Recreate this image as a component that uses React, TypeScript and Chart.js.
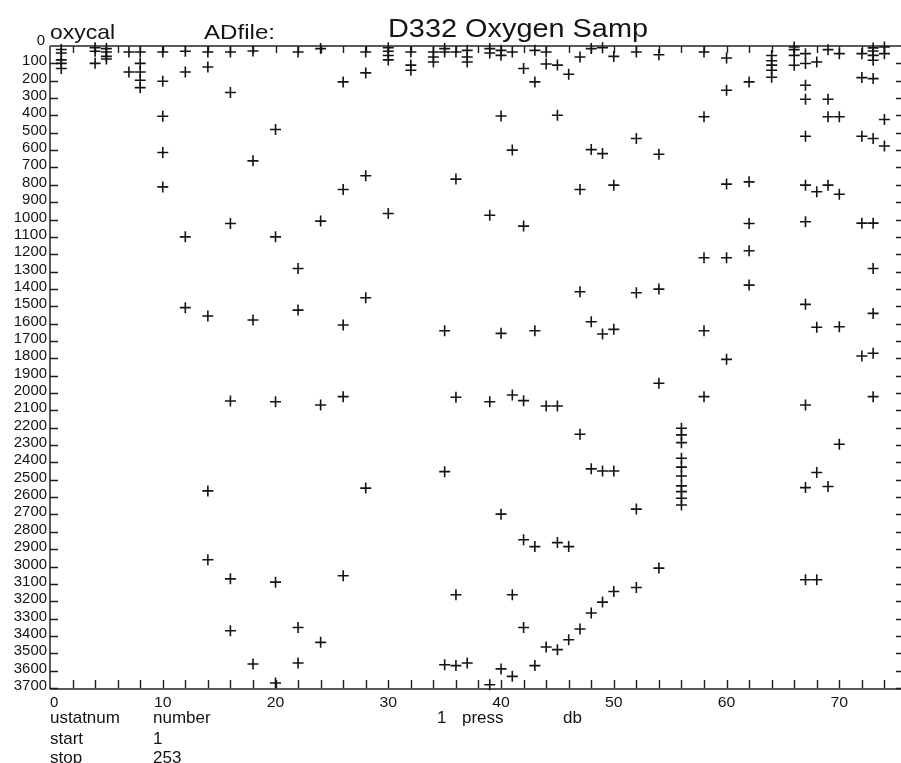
import React, { useEffect, useRef } from "react";
import { Chart, registerables } from "chart.js";

Chart.register(...registerables);

// Station numbers (x) and the sample pressures (db) drawn at each station (y)
const stationNumbers = [1, 4, 5, 7, 8, 10, 12, 14, 16, 18, 20, 22, 24, 26, 28, 30, 32, 34, 35, 36, 37, 39, 40, 41, 42, 43, 44, 45, 46, 47, 48, 49, 50, 52, 54, 56, 58, 60, 62, 64, 66, 67, 68, 69, 70, 72, 73, 74];

const samplePressures: number[][] = [
  [20, 40, 80, 100, 130],
  [10, 30, 100],
  [15, 35, 60, 75],
  [35, 150],
  [35, 100, 150, 197, 240],
  [35, 203, 405, 614, 812],
  [30, 150, 1100, 1508],
  [35, 121, 1556, 2564, 2961],
  [35, 268, 1023, 2046, 3071, 3370],
  [29, 662, 1579, 3562],
  [481, 1100, 2050, 3090, 3671],
  [35, 1282, 1522, 3351, 3556],
  [15, 1009, 2069, 3437],
  [207, 827, 1608, 2021, 3053],
  [35, 155, 748, 1451, 2548],
  [10, 30, 55, 80, 965],
  [35, 110, 140],
  [35, 63, 92],
  [15, 35, 1641, 2453, 3566],
  [35, 767, 2024, 3163, 3571],
  [25, 63, 92, 3556],
  [15, 40, 975, 2050, 3681],
  [25, 54, 403, 1656, 2698, 3590],
  [35, 600, 2011, 3163, 3633],
  [130, 1038, 2044, 2846, 3351],
  [25, 207, 1641, 2885, 3571],
  [35, 104, 2075, 3464],
  [110, 399, 2075, 2862, 3479],
  [163, 2885, 3422],
  [63, 827, 1416, 2238, 3360],
  [15, 597, 1589, 2437, 3268],
  [10, 620, 1660, 2449, 3205],
  [60, 802, 1633, 2449, 3144],
  [35, 533, 1422, 2669, 3121],
  [50, 624, 1401, 1944, 3009],
  [2203, 2241, 2286, 2376, 2427, 2478, 2535, 2568, 2606, 2645],
  [35, 408, 1220, 1641, 2021],
  [69, 255, 796, 1220, 1806],
  [207, 783, 1023, 1180, 1378],
  [55, 85, 110, 140, 180],
  [6, 21, 54, 111],
  [44, 101, 226, 307, 520, 802, 1013, 1489, 2069, 2545, 3076],
  [92, 840, 1621, 2458, 3076],
  [21, 307, 408, 802, 2539],
  [44, 408, 854, 1618, 2295],
  [44, 182, 520, 1021, 1787],
  [11, 29, 54, 82, 188, 533, 1021, 1282, 1541, 1771, 2021],
  [6, 44, 424, 576],
];

const yTickLabels = [0, 100, 200, 300, 400, 500, 600, 700, 800, 900, 1000, 1100, 1200, 1300, 1400, 1500, 1600, 1700, 1800, 1900, 2000, 2100, 2200, 2300, 2400, 2500, 2600, 2700, 2800, 2900, 3000, 3100, 3200, 3300, 3400, 3500, 3600, 3700];
const xTickLabels = [0, 10, 20, 30, 40, 50, 60, 70];
const xMinorStep = 2;

const headerLeft = "oxycal";
const headerFile = "ADfile:";
const headerTitle = "D332 Oxygen Samp";
const footerRows = [
  ["ustatnum", "number"],
  ["start", "1"],
  ["stop", "253"],
];
const footerY = ["1", "press", "db"];

const FONT = '"Liberation Sans", Arial, Helvetica, sans-serif';
const INK = "#141414";

function drawText(
  ctx: CanvasRenderingContext2D,
  text: string,
  x: number,
  y: number,
  size: number,
  align: CanvasTextAlign = "left",
  width?: number
) {
  ctx.save();
  ctx.font = `${size}px ${FONT}`;
  ctx.fillStyle = INK;
  ctx.textBaseline = "alphabetic";
  ctx.textAlign = align;
  const w = ctx.measureText(text).width;
  const sx = width ? width / w : 1;
  ctx.translate(x, y);
  ctx.scale(sx, 1);
  ctx.fillText(text, 0, 0);
  ctx.restore();
}

const axesPlugin = {
  id: "oxyAxes",
  beforeDatasetsDraw(chart: any) {
    const { ctx, chartArea: a, scales } = chart;
    const xs = scales.x;
    const ys = scales.y;
    ctx.save();
    ctx.strokeStyle = "#5a5a5a";
    ctx.lineWidth = 2;
    ctx.beginPath();
    ctx.moveTo(a.left, a.top);
    ctx.lineTo(a.right, a.top);
    ctx.moveTo(a.left, a.top);
    ctx.lineTo(a.left, a.bottom + 1);
    ctx.moveTo(a.left, a.bottom + 1);
    ctx.lineTo(a.right, a.bottom + 1);
    ctx.stroke();

    ctx.strokeStyle = "#1e1e1e";
    ctx.lineWidth = 1.4;
    ctx.beginPath();
    for (let v = xMinorStep; v < xs.max; v += xMinorStep) {
      const px = Math.round(xs.getPixelForValue(v)) + 0.5;
      ctx.moveTo(px, a.bottom);
      ctx.lineTo(px, a.bottom - 8);
      ctx.moveTo(px, a.top);
      ctx.lineTo(px, a.top + 7);
    }
    for (const v of yTickLabels) {
      if (v === 0) continue;
      const py = Math.round(ys.getPixelForValue(v)) + 0.5;
      ctx.moveTo(a.left, py);
      ctx.lineTo(a.left + 8, py);
      ctx.moveTo(a.right, py);
      ctx.lineTo(a.right - 5, py);
    }
    ctx.stroke();
    ctx.restore();
  },
  afterDraw(chart: any) {
    const { ctx, chartArea: a, scales } = chart;
    const xs = scales.x;
    const ys = scales.y;
    // y tick labels
    for (const v of yTickLabels) {
      const py = ys.getPixelForValue(v);
      if (v === 0) drawText(ctx, String(v), a.left - 5, py - 1, 15, "right");
      else drawText(ctx, String(v), a.left - 3, py + 2, 15, "right", 8.3 * String(v).length);
    }
    // x tick labels
    for (const v of xTickLabels) {
      const px = xs.getPixelForValue(v);
      if (v === 0) drawText(ctx, String(v), px, a.bottom + 19, 15, "left");
      else drawText(ctx, String(v), px, a.bottom + 19, 15, "center", 8.8 * String(v).length);
    }
    // header
    drawText(ctx, headerLeft, a.left, 39, 21, "left", 65);
    drawText(ctx, headerFile, 204, 39, 21, "left", 71);
    drawText(ctx, headerTitle, 388, 37, 26, "left", 260);
    // footer
    const rowsY = [723, 744, 763];
    footerRows.forEach((row, i) => {
      drawText(ctx, row[0], a.left, rowsY[i], 17, "left");
      drawText(ctx, row[1], 153, rowsY[i], 17, "left");
    });
    drawText(ctx, footerY[0], 437, rowsY[0], 17, "left");
    drawText(ctx, footerY[1], 462, rowsY[0], 17, "left");
    drawText(ctx, footerY[2], 563, rowsY[0], 17, "left");
  },
};

export default function App() {
  const ref = useRef<HTMLCanvasElement>(null);

  useEffect(() => {
    if (!ref.current) return;
    const points: { x: number; y: number }[] = [];
    stationNumbers.forEach((s, i) => {
      samplePressures[i].forEach((p) => points.push({ x: s, y: p }));
    });
    const chart = new Chart(ref.current, {
      type: "scatter",
      data: {
        datasets: [
          {
            data: points,
            pointStyle: "cross",
            pointRadius: 5.5,
            pointHoverRadius: 5.5,
            borderColor: INK,
            backgroundColor: INK,
            borderWidth: 1.6,
            clip: false as any,
          },
        ],
      },
      options: {
        responsive: false,
        animation: false,
        devicePixelRatio: 1,
        layout: { autoPadding: false, padding: { left: 50, top: 46, right: 0, bottom: 75 } },
        plugins: {
          legend: { display: false },
          tooltip: { enabled: false },
          title: { display: false },
        },
        events: [],
        scales: {
          x: { type: "linear", min: 0, max: 75.47, display: false },
          y: { type: "linear", min: 0, max: 3700, reverse: true, display: false },
        },
      },
      plugins: [axesPlugin],
    });
    return () => chart.destroy();
  }, []);

  return (
    <div
      style={{
        position: "fixed",
        left: 0,
        top: 0,
        width: 901,
        height: 763,
        overflow: "hidden",
        background: "#ffffff",
      }}
    >
      <canvas ref={ref} width={901} height={763} style={{ display: "block", width: 901, height: 763 }} />
    </div>
  );
}
